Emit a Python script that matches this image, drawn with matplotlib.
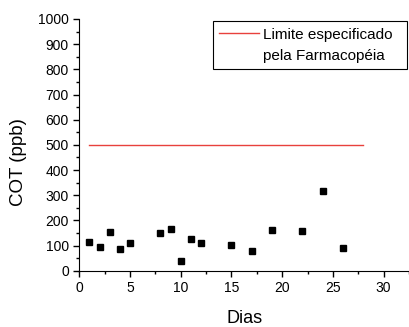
import matplotlib

matplotlib.use("Agg")
import matplotlib.pyplot as plt
from matplotlib.lines import Line2D
from matplotlib.ticker import MultipleLocator

plt.rcParams["font.family"] = ["Liberation Sans", "DejaVu Sans"]

dias = [1, 2, 3, 4, 5, 8, 9, 10, 11, 12, 15, 17, 19, 22, 24, 26]
cot = [114, 96, 154, 88, 110, 149, 166, 40, 126, 110, 104, 80, 162, 159, 316, 90]
limite_x = [1, 28]
limite_y = [500, 500]

fig = plt.figure(figsize=(4.09, 3.27), dpi=100)
ax = fig.add_axes([0.194, 0.172, 0.806, 0.770])

limite, = ax.plot(limite_x, limite_y, color="#e8413c", lw=1.0)
ax.plot(dias, cot, "s", color="black", markersize=5, linestyle="none")

ax.set_xlim(0, 32.5)
ax.set_ylim(0, 1000)
ax.xaxis.set_major_locator(MultipleLocator(5))
ax.xaxis.set_minor_locator(MultipleLocator(2.5))
ax.yaxis.set_major_locator(MultipleLocator(100))
ax.yaxis.set_minor_locator(MultipleLocator(50))
ax.tick_params(which="major", direction="out", length=4, width=1, labelsize=10)
ax.tick_params(which="minor", direction="out", length=2.5, width=1)
ax.spines["top"].set_visible(False)
ax.spines["right"].set_visible(False)

ax.set_xlabel("Dias", fontsize=13, labelpad=11)
ax.set_ylabel("COT (ppb)", fontsize=13.5)
ax.yaxis.set_label_coords(-0.158, 0.43)

# second legend row carries only text, like the original two-line label
vazio = Line2D([], [], color="none")
leg = ax.legend([limite, vazio], ["Limite especificado  ", "pela Farmacopéia"],
                loc="upper right", bbox_to_anchor=(0.995, 0.99), fontsize=11,
                fancybox=False, edgecolor="black", framealpha=1,
                handlelength=2.6, borderpad=0.4, handletextpad=0.3,
                labelspacing=0.5, borderaxespad=0)
leg.get_frame().set_linewidth(0.8)

fig.savefig("out.png")
